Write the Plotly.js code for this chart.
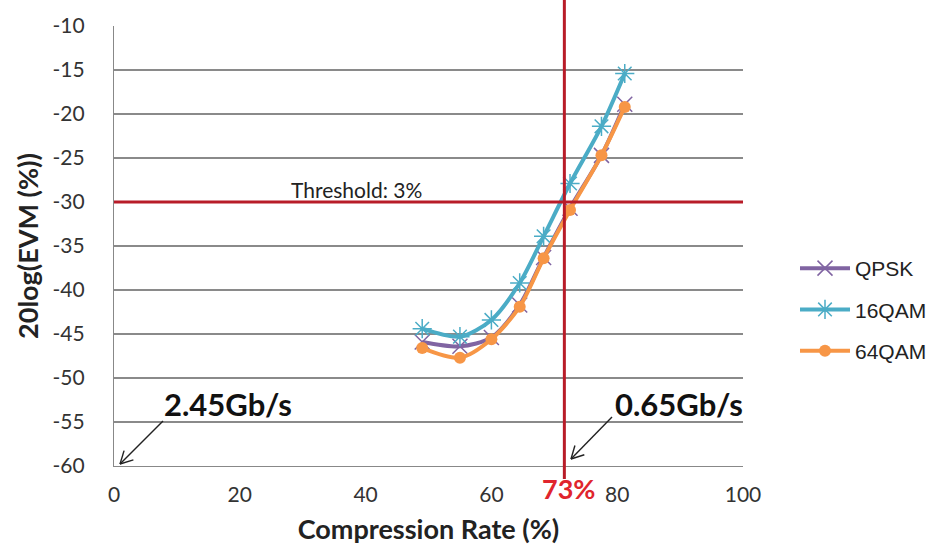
<!DOCTYPE html>
<html>
<head>
<meta charset="utf-8">
<script src="https://cdn.plot.ly/plotly-3.0.1.min.js"></script>
<style>html,body{margin:0;padding:0;background:#fff;}#chart{width:944px;height:558px;}</style>
</head>
<body>
<div id="chart"></div>
<script>
// ---- data ----
const seriesNames = ['QPSK', '16QAM', '64QAM'];
const compressionRate = [49, 55, 60, 64.5, 68.3, 72.5, 77.5, 81.2];
const evmQPSK  = [-45.9, -46.4, -45.4, -41.7, -36.3, -30.7, -24.7, -18.9];
const evm16QAM = [-44.4, -45.3, -43.4, -39.2, -33.9, -27.9, -21.4, -15.4];
const evm64QAM = [-46.6, -47.7, -45.6, -41.9, -36.4, -30.9, -24.7, -19.2];
const yTickVals = [-60, -55, -50, -45, -40, -35, -30, -25, -20, -15, -10];
const yTickText = ['-60', '-55', '-50', '-45', '-40', '-35', '-30', '-25', '-20', '-15', '-10'];
const xTickVals = [0, 20, 40, 60, 80, 100];
const xTickText = ['0', '20', '40', '60', '80', '100'];
const thresholdY = -30;
const cutX = 71.6;

// ---- layout helpers (pixel -> paper) ----
const PL = 114, PR = 743, PT = 26, PB = 466;
const pxX = x => (x - PL) / (PR - PL);
const pxY = y => (PB - y) / (PB - PT);

function arrowShapes(tx, ty, hx, hy) {
  const dx = hx - tx, dy = hy - ty, L = Math.hypot(dx, dy);
  const ux = dx / L, uy = dy / L, len = 14, ang = 28 * Math.PI / 180;
  const heads = [ang, -ang].map(a => {
    const bx = -ux, by = -uy;
    const rx = bx * Math.cos(a) - by * Math.sin(a);
    const ry = bx * Math.sin(a) + by * Math.cos(a);
    return [hx + rx * len, hy + ry * len];
  });
  const st = {color: '#222', width: 1.4};
  return [
    {type: 'line', xref: 'paper', yref: 'paper', x0: pxX(tx), y0: pxY(ty), x1: pxX(hx), y1: pxY(hy), line: st},
    {type: 'line', xref: 'paper', yref: 'paper', x0: pxX(heads[0][0]), y0: pxY(heads[0][1]), x1: pxX(hx), y1: pxY(hy), line: st},
    {type: 'line', xref: 'paper', yref: 'paper', x0: pxX(heads[1][0]), y0: pxY(heads[1][1]), x1: pxX(hx), y1: pxY(hy), line: st}
  ];
}

const colors = ['#8064A2', '#4BACC6', '#F79646'];
const traces = [
  {x: compressionRate, y: evmQPSK, name: seriesNames[0], legendgroup: 'a', type: 'scatter', mode: 'lines+markers',
   line: {color: colors[0], width: 4, shape: 'spline', smoothing: 0.8},
   marker: {symbol: 'x-thin-open', size: 15, line: {color: colors[0], width: 1.5}}},
  {x: compressionRate, y: evm16QAM, name: seriesNames[1], legendgroup: 'b', type: 'scatter', mode: 'lines+markers',
   line: {color: colors[1], width: 4, shape: 'spline', smoothing: 0.8},
   marker: {symbol: 'asterisk-open', size: 16, line: {color: colors[1], width: 1.5}}},
  {x: compressionRate, y: evm64QAM, name: seriesNames[2], legendgroup: 'c', type: 'scatter', mode: 'lines+markers',
   line: {color: colors[2], width: 4, shape: 'spline', smoothing: 0.8},
   marker: {symbol: 'circle', size: 12, color: colors[2]}}
];

const shapes = [
  {type: 'line', xref: 'paper', yref: 'y', x0: 0, x1: 1, y0: thresholdY, y1: thresholdY, line: {color: '#B81C28', width: 3}, layer: 'above'},
  {type: 'line', xref: 'x', yref: 'paper', x0: cutX, x1: cutX, y0: pxY(479), y1: pxY(0), line: {color: '#B81C28', width: 3}, layer: 'above'}
].concat(arrowShapes(163, 421, 120, 464), arrowShapes(612, 417, 571, 459));

const annotations = [
  {xref: 'paper', yref: 'paper', x: pxX(356), y: pxY(189), text: 'Threshold: 3%', showarrow: false,
   font: {family: 'Lato, sans-serif', size: 21, color: '#222'}, xanchor: 'center', yanchor: 'middle'},
  {xref: 'paper', yref: 'paper', x: pxX(228), y: pxY(404), text: '2.45Gb/s', showarrow: false,
   font: {family: 'Lato, sans-serif', size: 31, color: '#111', weight: 'bold'}, xanchor: 'center', yanchor: 'middle'},
  {xref: 'paper', yref: 'paper', x: pxX(679), y: pxY(404), text: '0.65Gb/s', showarrow: false,
   font: {family: 'Lato, sans-serif', size: 31, color: '#111', weight: 'bold'}, xanchor: 'center', yanchor: 'middle'},
  {xref: 'paper', yref: 'paper', x: pxX(568), y: pxY(488), text: '73%', showarrow: false,
   font: {family: 'Lato, sans-serif', size: 27, color: '#E0252D', weight: 'bold'}, xanchor: 'center', yanchor: 'middle'}
];

const layout = {
  width: 944, height: 558,
  margin: {l: PL, r: 944 - PR, t: PT, b: 558 - PB, pad: 0, autoexpand: false},
  paper_bgcolor: '#ffffff', plot_bgcolor: '#ffffff',
  showlegend: true,
  legend: {x: pxX(795), y: pxY(248), xanchor: 'left', yanchor: 'top', tracegroupgap: 11,
           itemwidth: 50, font: {family: '"Liberation Sans", Arial, sans-serif', size: 21, color: '#222'},
           bgcolor: 'rgba(0,0,0,0)'},
  xaxis: {range: [0, 100], tickvals: xTickVals, ticktext: xTickText, showgrid: false, zeroline: false, automargin: false,
          showline: true, linecolor: '#888', linewidth: 1.2, ticks: '', ticklabelstandoff: 10,
          tickfont: {family: 'Lato, sans-serif', size: 21, color: '#333'},
          title: {text: 'Compression Rate (%)', standoff: 14, font: {family: 'Lato, sans-serif', size: 27, color: '#222', weight: 'bold'}}},
  yaxis: {range: [-60, -10], tickvals: yTickVals, ticktext: yTickText, showgrid: true, gridcolor: '#8a8a8a', gridwidth: 1.2,
          zeroline: false, showline: true, linecolor: '#888', linewidth: 1.2, ticks: '', ticklabelstandoff: 24, automargin: false,
          tickfont: {family: 'Lato, sans-serif', size: 21, color: '#333'},
          title: {text: '20log(EVM (%))', standoff: 6, font: {family: 'Lato, sans-serif', size: 27, color: '#222', weight: 'bold'}}},
  shapes: shapes,
  annotations: annotations
};

Plotly.newPlot('chart', traces, layout, {displayModeBar: false, staticPlot: true});
</script>
</body>
</html>
